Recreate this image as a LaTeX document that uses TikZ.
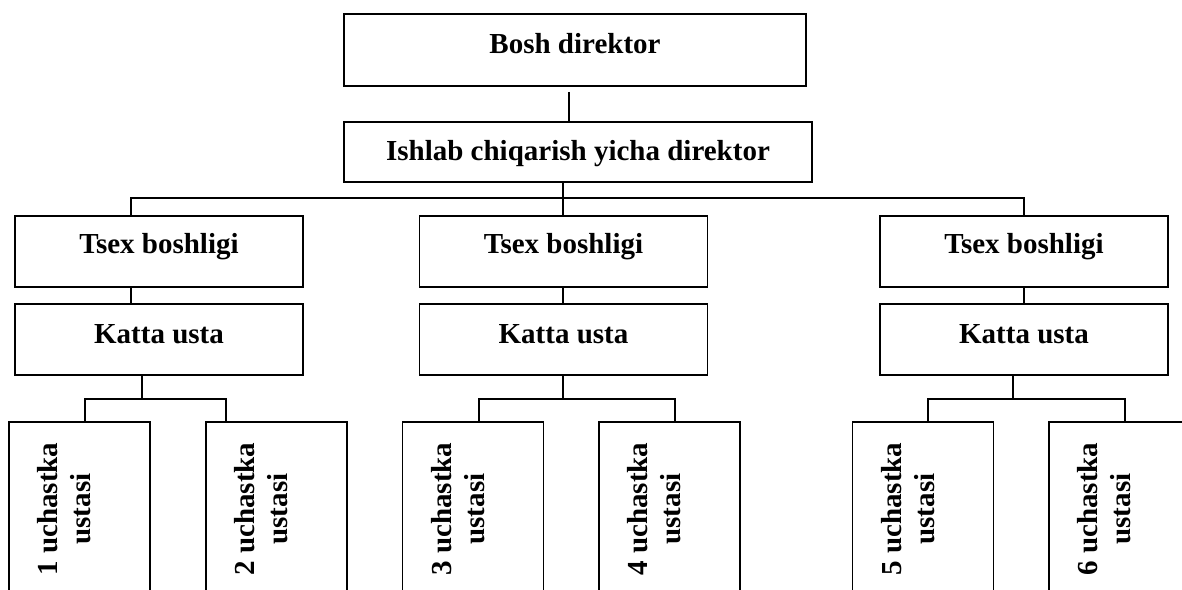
\documentclass[tikz,border=0pt]{standalone}
\usepackage{fontspec}
\setmainfont{Liberation Serif}
\begin{document}
\begin{tikzpicture}[x=1pt,y=1pt,
  line width=1.8pt,
  box/.style={draw, line width=1.8pt, inner sep=0pt, anchor=base,
    font=\fontsize{29}{34}\selectfont\bfseries},
  tsex/.style={box, minimum width=288pt, text height=37pt, text depth=34pt},
  katta/.style={box, minimum width=288pt, text height=39pt, text depth=32pt},
  ubox/.style={draw, line width=1.8pt, inner sep=0pt,
    minimum width=141pt, minimum height=174pt},
  utext/.style={rotate=90, inner sep=0pt, align=center,
    font=\fontsize{29}{33}\selectfont\bfseries}]
\useasboundingbox (0,0) rectangle (1182,-589);
\fill[white] (0,0) rectangle (1182,-589);
\clip (0,0) rectangle (1182,-589);

% top of the chart
\node[box, minimum width=462pt, text height=39pt, text depth=33pt]
  (bosh) at (575,-53) {Bosh direktor};
\node[box, minimum width=468pt, text height=38pt, text depth=22pt]
  (ish) at (578,-160) {Ishlab chiqarish yicha direktor};

% workshops
\node[tsex] (tL) at (159,-253) {Tsex boshligi};
\node[tsex] (tM) at (563.5,-253) {Tsex boshligi};
\node[tsex] (tR) at (1024,-253) {Tsex boshligi};
\node[katta] (kL) at (159,-343) {Katta usta};
\node[katta] (kM) at (563.5,-343) {Katta usta};
\node[katta] (kR) at (1024,-343) {Katta usta};

% section foremen
\foreach \i/\cx in {1/79.5, 2/276.5, 3/473, 4/669.5, 5/923, 6/1119.5} {
  \node[ubox] (u\i) at (\cx,-509) {};
  \node[utext] (ut\i) at ([xshift=-15pt]u\i.center) {\i{} uchastka\\ustasi};
}

% connector points
\coordinate (vTop) at (569,-100);
\coordinate (hL) at (131,-198);
\coordinate (hM) at (563,-198);
\coordinate (hR) at (1024,-198);
\coordinate (jL) at (142,-399);
\coordinate (jM) at (563,-399);
\coordinate (jR) at (1013,-399);
\coordinate (bL1) at (85,-399);
\coordinate (bL2) at (226,-399);
\coordinate (bM1) at (479,-399);
\coordinate (bM2) at (675,-399);
\coordinate (bR1) at (928,-399);
\coordinate (bR2) at (1125,-399);

% connectors
\draw[shorten <=5pt] (bosh.south -| vTop) -- (ish.north -| vTop);
\draw (ish.south -| hM) -- (hM |- tM.north);
\draw (hL |- tL.north) -- (hL) -- (hR) -- (hR |- tR.north);
\draw (tL.south -| hL) -- (kL.north -| hL);
\draw (tM.south -| hM) -- (kM.north -| hM);
\draw (tR.south -| hR) -- (kR.north -| hR);
\draw (kL.south -| jL) -- (jL);
\draw (kM.south -| jM) -- (jM);
\draw (kR.south -| jR) -- (jR);
\draw (bL1 |- u1.north) -- (bL1) -- (bL2) -- (bL2 |- u2.north);
\draw (bM1 |- u3.north) -- (bM1) -- (bM2) -- (bM2 |- u4.north);
\draw (bR1 |- u5.north) -- (bR1) -- (bR2) -- (bR2 |- u6.north);
\end{tikzpicture}
\end{document}
